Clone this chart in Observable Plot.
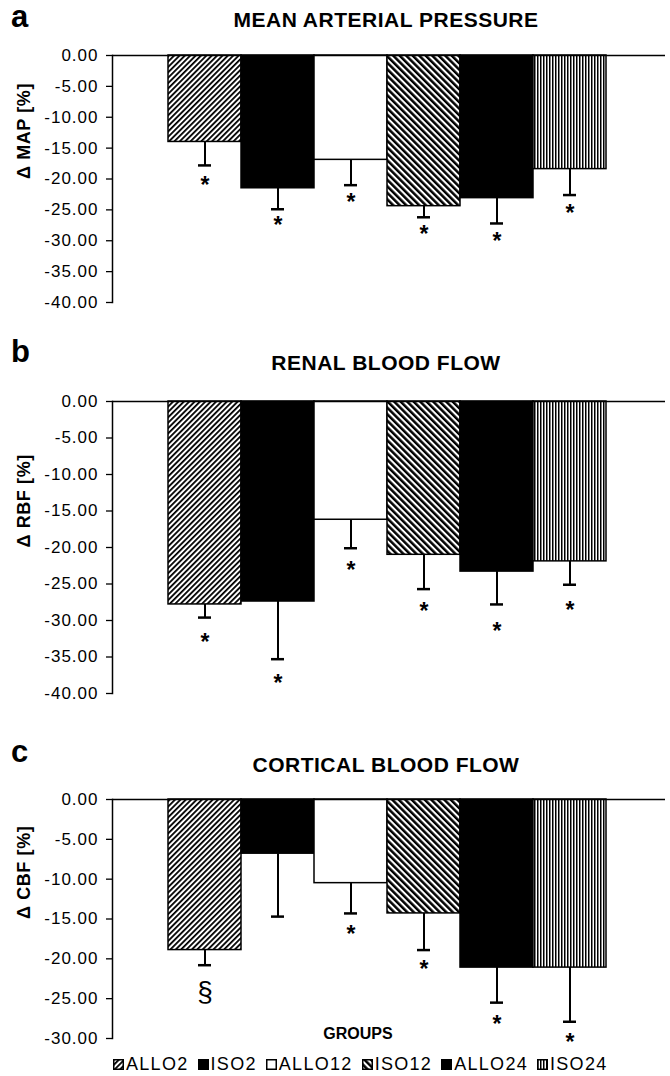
<!DOCTYPE html>
<html>
<head>
<meta charset="utf-8">
<script src="https://cdn.jsdelivr.net/npm/d3@7"></script>
<script src="https://cdn.jsdelivr.net/npm/@observablehq/plot@0.6"></script>
<style>
  body { margin: 0; background: #fff; color: #000; font-family: "Liberation Sans", Arial, sans-serif; }
  #root { position: relative; width: 670px; height: 1076px; overflow: hidden; background: #fff; }
  .letter { position: absolute; font-weight: bold; font-size: 31px; line-height: 1; }
  .title { position: absolute; left: 136px; width: 500px; text-align: center; font-weight: bold; font-size: 21px; letter-spacing: 0.5px; line-height: 1; white-space: nowrap; }
  .panel { position: absolute; left: 0; }
  #legend { position: absolute; left: 113px; top: 1055px; font-size: 18px; letter-spacing: 1.3px; line-height: 1; white-space: nowrap; }
  #legend .item { margin-right: 9px; }
  #legend svg { vertical-align: baseline; margin-right: 2px; }
</style>
</head>
<body>
<svg width="0" height="0" style="position:absolute">
  <defs>
    <pattern id="p-allo2" patternUnits="userSpaceOnUse" width="3.8" height="3.8" patternTransform="rotate(45)">
      <rect width="3.8" height="3.8" fill="#fff"/><rect width="1.8" height="3.8" fill="#000"/>
    </pattern>
    <pattern id="p-iso12" patternUnits="userSpaceOnUse" width="4.6" height="4.6" patternTransform="rotate(-45)">
      <rect width="4.6" height="4.6" fill="#fff"/><rect width="2.5" height="4.6" fill="#000"/>
    </pattern>
    <pattern id="p-iso24" patternUnits="userSpaceOnUse" width="3" height="3">
      <rect width="3" height="3" fill="#fff"/><rect width="1.5" height="3" fill="#000"/>
    </pattern>
  </defs>
</svg>
<div id="root">
  <div class="letter" style="left:11px;top:1px">a</div>
  <div class="title" style="top:9px">MEAN ARTERIAL PRESSURE</div>
  <div class="letter" style="left:11px;top:336px">b</div>
  <div class="title" style="top:352px">RENAL BLOOD FLOW</div>
  <div class="letter" style="left:11px;top:736px">c</div>
  <div class="title" style="top:754px">CORTICAL BLOOD FLOW</div>
  <div id="legend"></div>
</div>
<script>
// ---------- data ----------
const groups = ["ALLO2", "ISO2", "ALLO12", "ISO12", "ALLO24", "ISO24"];

// a: mean arterial pressure
const mapMean = [-14.0, -21.5, -16.9, -24.4, -23.1, -18.4];
const mapErr  = [-17.8, -24.9, -21.0, -26.2, -27.2, -22.6];
const mapMark = ["*", "*", "*", "*", "*", "*"];
const mapMarkY = [-20.6, -27.0, -23.3, -28.6, -29.6, -25.1];

// b: renal blood flow
const rbfMean = [-27.8, -27.4, -16.2, -21.0, -23.3, -21.9];
const rbfErr  = [-29.6, -35.3, -20.1, -25.7, -27.8, -25.1];
const rbfMark = ["*", "*", "*", "*", "*", "*"];
const rbfMarkY = [-32.6, -38.2, -22.8, -28.4, -31.1, -28.2];

// c: cortical blood flow
const cbfMean = [-18.9, -6.8, -10.5, -14.3, -21.1, -21.1];
const cbfErr  = [-20.8, -14.7, -14.3, -18.9, -25.5, -27.9];
const cbfMark = ["§", "", "*", "*", "*", "*"];
const cbfMarkY = [-24.3, null, -16.6, -21.0, -27.9, -30.2];

const ticksAB = [0, -5, -10, -15, -20, -25, -30, -35, -40];
const ticksC = [0, -5, -10, -15, -20, -25, -30];
const xLabel = "GROUPS";

// ---------- styles ----------
const fillFor = {
  ALLO2: "url(#p-allo2)", ISO2: "#000", ALLO12: "#fff",
  ISO12: "url(#p-iso12)", ALLO24: "#000", ISO24: "url(#p-iso24)"
};

function panel({mean, err, mark, markY, ylabel, domain, ticks, top, marginTop, plotH, groupsLabel}) {
  const data = groups.map((g, i) => ({group: g, fill: fillFor[g], mean: mean[i], err: err[i], mark: mark[i], markY: markY[i]}));
  const marks = [
    Plot.ruleX(data, {x: "group", y1: "mean", y2: "err", stroke: "#000", strokeWidth: 2}),
    Plot.tickY(data, {x: "group", y: "err", insetLeft: 30, insetRight: 30, stroke: "#000", strokeWidth: 2.5}),
    Plot.barY(data, {x: "group", y1: 0, y2: "mean", fill: "fill", stroke: "#000", strokeWidth: 1.5}),
    Plot.ruleY([0], {stroke: "#000", strokeWidth: 1.5}),
    Plot.frame({anchor: "left", stroke: "#000", strokeWidth: 1.5}),
    Plot.axisY({ticks, tickFormat: d => d.toFixed(2), tickSize: 6, tickPadding: 8, label: null, fontSize: 17, strokeWidth: 1.3}),
    Plot.text([ylabel], {frameAnchor: "left", rotate: -90, dx: -88, fontWeight: "bold", fontSize: 18}),
    Plot.text(data.filter(d => d.mark === "*"), {x: "group", y: "markY", text: "mark", fontWeight: "bold", fontSize: 23, dy: 3}),
    Plot.text(data.filter(d => d.mark === "§"), {x: "group", y: "markY", text: "mark", fontSize: 28, dy: -1})
  ];
  if (groupsLabel) marks.push(Plot.text([groupsLabel], {frameAnchor: "bottom", dx: -31, fontWeight: "bold", fontSize: 16}));
  const svg = Plot.plot({
    width: 670,
    height: marginTop + plotH + 12,
    marginTop, marginBottom: 12, marginLeft: 112, marginRight: 5,
    style: {fontFamily: "Liberation Sans, Arial, sans-serif", fontSize: "16px", color: "#000", background: "transparent", overflow: "visible"},
    x: {domain: groups, range: [167, 607], padding: 0, axis: null},
    y: {domain, axis: null},
    color: {type: "identity"},
    marks
  });
  svg.classList.add("panel");
  svg.style.top = top + "px";
  d3.select(svg).selectAll('g[aria-label="y-axis tick label"]').attr("font-size", 17).style("font-size", "17px").style("letter-spacing", "1px");
  d3.select(svg).selectAll('g[aria-label="text"]').filter((d, i, n) => n[i].textContent.includes("[%]")).style("letter-spacing", "0.6px");
  document.getElementById("root").appendChild(svg);
}

panel({mean: mapMean, err: mapErr, mark: mapMark, markY: mapMarkY, ylabel: "Δ MAP [%]", domain: [-40, 0], ticks: ticksAB, top: 35, marginTop: 20, plotH: 247});
panel({mean: rbfMean, err: rbfErr, mark: rbfMark, markY: rbfMarkY, ylabel: "Δ RBF [%]", domain: [-40, 0], ticks: ticksAB, top: 380, marginTop: 21, plotH: 292});
panel({mean: cbfMean, err: cbfErr, mark: cbfMark, markY: cbfMarkY, ylabel: "Δ CBF [%]", domain: [-30, 0], ticks: ticksC, top: 780, marginTop: 19, plotH: 239, groupsLabel: xLabel});

// legend
const legend = document.getElementById("legend");
groups.forEach(g => {
  const span = document.createElement("span");
  span.className = "item";
  span.innerHTML = `<svg width="11" height="11"><rect x="0.75" y="0.75" width="9.5" height="9.5" fill="${fillFor[g]}" stroke="#000" stroke-width="1.5"/></svg>${g}`;
  legend.appendChild(span);
});
</script>
</body>
</html>
